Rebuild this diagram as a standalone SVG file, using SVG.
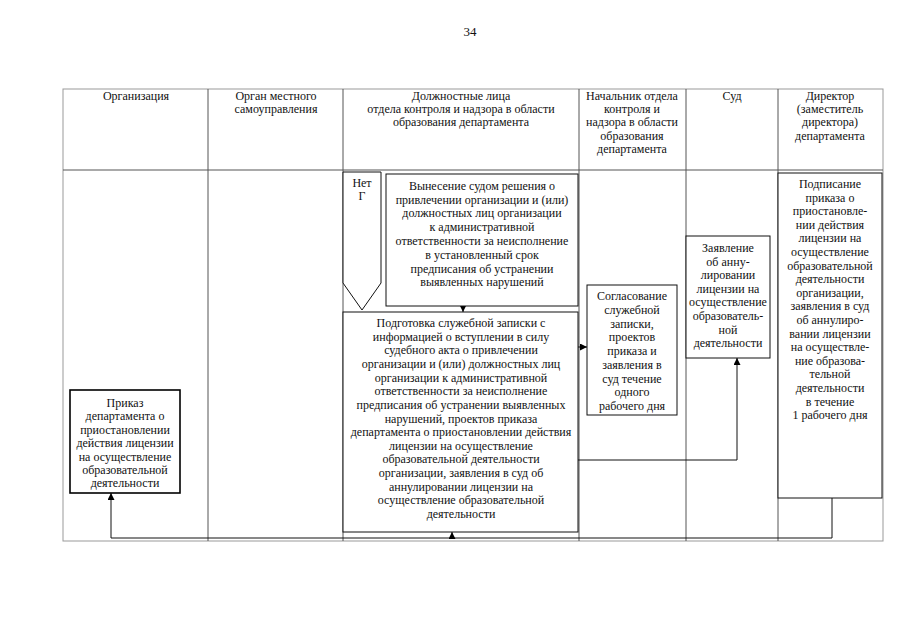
<svg xmlns="http://www.w3.org/2000/svg" width="905" height="640" viewBox="0 0 905 640" font-family="'Liberation Serif', 'Times New Roman', 'DejaVu Serif', serif">
<style>
text{font-family:'Liberation Serif','Times New Roman','DejaVu Serif',serif;font-size:12px;fill:#111;text-anchor:middle}
.pg{font-size:13px}
.grid{stroke:#555;stroke-width:1;fill:none}
.frame{stroke:#999;stroke-width:1;fill:none}
.box{fill:#fff;stroke:#111;stroke-width:1}
.bold{fill:#fff;stroke:#000;stroke-width:1.6}
.con{fill:none;stroke:#111;stroke-width:1}
</style>
<defs>
<marker id="ah" viewBox="0 0 10 10" refX="10" refY="5" markerWidth="7" markerHeight="7" markerUnits="userSpaceOnUse" orient="auto"><path d="M0,0L10,5L0,10z" fill="#000"/></marker>
</defs>
<rect width="905" height="640" fill="#fff"/>
<text class="pg" x="470" y="36">34</text>
<g id="table">
<rect class="frame" x="63" y="89" width="820" height="452"/>
<line class="grid" x1="63" y1="170" x2="883" y2="170"/>
<line class="grid" x1="208" y1="89" x2="208" y2="541"/>
<line class="grid" x1="343" y1="89" x2="343" y2="541"/>
<line class="grid" x1="579" y1="89" x2="579" y2="541"/>
<line class="grid" x1="686" y1="89" x2="686" y2="541"/>
<line class="grid" x1="778" y1="89" x2="778" y2="541"/>
<text x="136" y="100">Организация</text>
<text x="276" y="100">Орган местного</text>
<text x="276" y="113">самоуправления</text>
<text x="461" y="100">Должностные лица</text>
<text x="461" y="113">отдела контроля и надзора в области</text>
<text x="461" y="126">образования департамента</text>
<text x="632" y="100">Начальник отдела</text>
<text x="632" y="113">контроля и</text>
<text x="632" y="126">надзора в области</text>
<text x="632" y="140">образования</text>
<text x="632" y="153">департамента</text>
<text x="732" y="100">Суд</text>
<text x="830" y="100">Директор</text>
<text x="830" y="113">(заместитель</text>
<text x="830" y="126">директора)</text>
<text x="830" y="140">департамента</text>
</g>
<g id="connectors">
<path class="con" d="M463,306V312" marker-end="url(#ah)"/>
<path class="con" d="M578,347H587" marker-end="url(#ah)"/>
<path class="con" d="M578,460H737V358" marker-end="url(#ah)"/>
<path class="con" d="M832,498V538H111V493" marker-end="url(#ah)"/>
<path class="con" d="M452,538V532" marker-end="url(#ah)"/>
</g>
<g id="node-net">
<polygon class="box" points="343,172 381,172 381,283 362,310 343,283"/>
<text x="362" y="187">Нет</text>
<text x="362" y="200">Г</text>
</g>
<g id="node-vynesenie">
<rect class="box" x="386" y="174" width="192" height="132"/>
<text x="482" y="190">Вынесение судом решения о</text>
<text x="482" y="204">привлечении организации и (или)</text>
<text x="482" y="217">должностных лиц организации</text>
<text x="482" y="231">к административной</text>
<text x="482" y="245">ответственности за неисполнение</text>
<text x="482" y="259">в установленный срок</text>
<text x="482" y="273">предписания об устранении</text>
<text x="482" y="286">выявленных нарушений</text>
</g>
<g id="node-podgotovka">
<rect class="box" x="343" y="312" width="235" height="220"/>
<text x="461" y="327">Подготовка служебной записки с</text>
<text x="461" y="340.6">информацией  о вступлении в силу</text>
<text x="461" y="354.3">судебного акта о привлечении</text>
<text x="461" y="367.9">организации и (или) должностных лиц</text>
<text x="461" y="381.6">организации к административной</text>
<text x="461" y="395.2">ответственности за неисполнение</text>
<text x="461" y="408.8">предписания об устранении выявленных</text>
<text x="461" y="422.5">нарушений, проектов приказа</text>
<text x="461" y="436.1">департамента о приостановлении действия</text>
<text x="461" y="449.8">лицензии на осуществление</text>
<text x="461" y="463.4">образовательной деятельности</text>
<text x="461" y="477">организации, заявления в суд об</text>
<text x="461" y="490.7">аннулировании лицензии на</text>
<text x="461" y="504.3">осуществление образовательной</text>
<text x="461" y="518">деятельности</text>
</g>
<g id="node-soglasovanie">
<rect class="box" x="587" y="285" width="90" height="130"/>
<text x="632" y="300">Согласование</text>
<text x="632" y="313.8">служебной</text>
<text x="632" y="327.5">записки,</text>
<text x="632" y="341.3">проектов</text>
<text x="632" y="355">приказа и</text>
<text x="632" y="368.8">заявления в</text>
<text x="632" y="382.5">суд течение</text>
<text x="632" y="396.3">одного</text>
<text x="632" y="410">рабочего дня</text>
</g>
<g id="node-zayavlenie">
<rect class="box" x="686" y="236" width="84" height="122"/>
<text x="728" y="252">Заявление</text>
<text x="728" y="265.6">об анну-</text>
<text x="728" y="279.2">лировании</text>
<text x="728" y="292.8">лицензии на</text>
<text x="728" y="306.4">осуществление</text>
<text x="728" y="320">образователь-</text>
<text x="728" y="333.6">ной</text>
<text x="728" y="347.2">деятельности</text>
</g>
<g id="node-direktor">
<rect class="box" x="778" y="173" width="104" height="325"/>
<text x="830" y="188">Подписание</text>
<text x="830" y="201.6">приказа о</text>
<text x="830" y="215.2">приостановле-</text>
<text x="830" y="228.8">нии действия</text>
<text x="830" y="242.4">лицензии на</text>
<text x="830" y="256">осуществление</text>
<text x="830" y="269.6">образовательной</text>
<text x="830" y="283.2">деятельности</text>
<text x="830" y="296.8">организации,</text>
<text x="830" y="310.4">заявления в суд</text>
<text x="830" y="324">об аннулиро-</text>
<text x="830" y="337.6">вании лицензии</text>
<text x="830" y="351.2">на осуществле-</text>
<text x="830" y="364.8">ние образова-</text>
<text x="830" y="378.4">тельной</text>
<text x="830" y="392">деятельности</text>
<text x="830" y="405.6">в течение</text>
<text x="830" y="419.2">1 рабочего дня</text>
</g>
<g id="node-prikaz">
<rect class="bold" x="70" y="390" width="110" height="103"/>
<text x="125" y="407">Приказ</text>
<text x="125" y="420.4">департамента о</text>
<text x="125" y="433.8">приостановлении</text>
<text x="125" y="447.2">действия лицензии</text>
<text x="125" y="460.6">на осуществление</text>
<text x="125" y="474">образовательной</text>
<text x="125" y="487.4">деятельности</text>
</g>
</svg>
